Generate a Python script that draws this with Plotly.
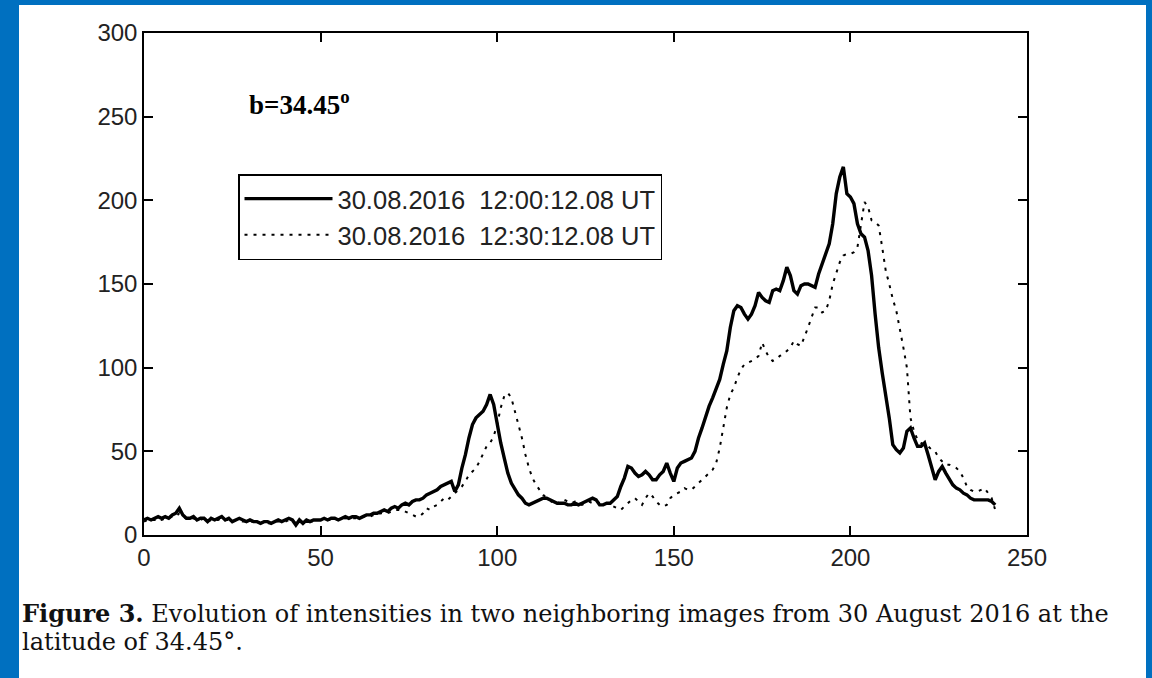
import plotly.graph_objects as go

# ---------------- data ----------------
x_pos = list(range(0, 242))

solid_1200 = [
    9, 10, 9, 10, 11, 10, 11, 10, 12, 13,
    16, 12, 10, 10, 11, 9, 10, 10, 8, 10,
    9, 10, 11, 9, 10, 8, 9, 10, 9, 8,
    9, 8, 8, 7, 8, 8, 7, 8, 9, 8,
    9, 10, 9, 6, 9, 7, 9, 8, 9, 9,
    9, 10, 9, 10, 10, 9, 10, 11, 10, 11,
    11, 10, 11, 12, 12, 13, 13, 14, 15, 14,
    16, 17, 16, 18, 19, 18, 20, 21, 21, 22,
    24, 25, 26, 27, 29, 30, 31, 32, 26, 30,
    40, 48, 58, 66, 70, 72, 74, 78, 84, 78,
    66, 55, 46, 37, 31, 27, 24, 22, 19, 18,
    19, 20, 21, 22, 22, 21, 20, 19, 19, 19,
    18, 18, 19, 18, 19, 20, 21, 22, 21, 18,
    18, 19, 19, 21, 23, 29, 34, 41, 40, 37,
    35, 36, 38, 36, 33, 33, 36, 38, 43, 37,
    32, 40, 43, 44, 45, 46, 50, 58, 64, 71,
    77, 82, 87, 93, 102, 110, 124, 134, 137, 136,
    132, 129, 132, 137, 145, 142, 140, 139, 146, 147,
    146, 152, 160, 155, 146, 144, 149, 150, 150, 149,
    148, 156, 162, 168, 174, 186, 204, 214, 220, 204,
    202, 198, 186, 180, 178, 170, 155, 132, 112, 97,
    84, 70, 54, 51, 49, 52, 62, 64, 58, 53,
    53, 55, 48, 41, 33, 38, 41, 37, 33, 30,
    28, 27, 25, 24, 22, 21, 21, 21, 21, 21, 20, 18,
]

dotted_1230 = [
    8, 9, 9, 9, 10, 9, 10, 10, 11, 11,
    13, 11, 10, 9, 10, 9, 9, 10, 8, 9,
    9, 9, 10, 9, 9, 8, 9, 9, 8, 8,
    8, 8, 7, 7, 8, 7, 7, 8, 8, 8,
    8, 9, 9, 7, 8, 7, 8, 8, 8, 9,
    9, 9, 9, 9, 10, 9, 9, 10, 10, 10,
    10, 10, 11, 11, 11, 12, 12, 13, 13, 13,
    14, 15, 15, 15, 14, 13, 12, 11, 11, 13,
    16, 15, 17, 18, 20, 22, 21, 23, 25, 27,
    29, 32, 36, 38, 40, 44, 49, 53, 55, 59,
    66, 76, 83, 85, 82, 74, 66, 58, 48, 40,
    34, 30, 27, 24, 22, 21, 18, 19, 20, 21,
    20, 19, 20, 19, 18, 19, 20, 19, 20, 19,
    18, 19, 18, 17, 16, 15, 17, 19, 21, 22,
    20, 18, 22, 25, 23, 20, 18, 17, 18, 22,
    24, 25, 26, 28, 27, 27, 29, 31, 33, 35,
    37, 39, 43, 52, 64, 76, 84, 88, 94, 99,
    102, 103, 104, 105, 107, 115, 110, 106, 104, 105,
    107, 108, 110, 112, 116, 114, 113, 118, 124, 130,
    136, 136, 133, 134, 140, 150, 157, 163, 167, 168,
    168, 169, 172, 185, 199, 196, 188, 187, 185, 172,
    158, 150, 141, 134, 124, 112, 100, 70, 62, 57,
    55, 54, 53, 51, 50, 46, 44, 42, 42, 41,
    40, 38, 34, 29, 27, 26, 26, 27, 28, 25, 22, 15,
]

series_names = ["30.08.2016\u00a0\u00a012:00:12.08 UT",
                "30.08.2016\u00a0\u00a012:30:12.08 UT"]
x_ticks = [0, 50, 100, 150, 200, 250]
y_ticks = [0, 50, 100, 150, 200, 250, 300]

label_text = "<b>b=34.45<sup>o</sup></b>"
caption_1 = ("<b>Figure 3.</b> Evolution of intensities in two neighboring images "
             "from 30 August 2016 at the")
caption_2 = "latitude of 34.45°."

# ---------------- figure ----------------
W, H = 1152, 678
L, R, T, B = 144, 1027, 33, 535     # plot area in pixels

def px(xp):
    return (xp - L) / (R - L)

def py(yp):
    return (B - yp) / (B - T)

fig = go.Figure()
fig.add_trace(go.Scatter(
    x=x_pos, y=solid_1200, mode="lines", name=series_names[0],
    line=dict(color="black", width=3.4)))
fig.add_trace(go.Scatter(
    x=x_pos, y=dotted_1230, mode="lines", name=series_names[1],
    line=dict(color="black", width=2, dash="3px,6px")))

axis_common = dict(
    showline=True, linecolor="black", linewidth=1.5, mirror="ticks",
    ticks="inside", ticklen=9, tickwidth=1.5, tickcolor="black",
    showgrid=False, zeroline=False,
    tickfont=dict(family="Liberation Sans, Arial, sans-serif", size=24, color="#222"),
)

fig.update_xaxes(range=[0, 250], tickvals=x_ticks, **axis_common)
fig.update_yaxes(range=[0, 300], tickvals=y_ticks, **axis_common)

# white page with blue frame
fig.add_shape(type="rect", xref="paper", yref="paper",
              x0=px(19), x1=px(1146), y0=py(W), y1=py(5),
              fillcolor="white", line=dict(width=0), layer="below")

fig.add_annotation(text=label_text, xref="paper", yref="paper",
                   x=px(247), y=py(103), xanchor="left", yanchor="middle",
                   showarrow=False,
                   font=dict(family="Liberation Serif, Times New Roman, serif",
                             size=27, color="black"))

cap_font = dict(family="DejaVu Serif, Liberation Serif, serif", size=24, color="#111")
fig.add_annotation(text=caption_1, xref="paper", yref="paper",
                   x=px(20), y=py(613), xanchor="left", yanchor="middle",
                   showarrow=False, font=cap_font)
fig.add_annotation(text=caption_2, xref="paper", yref="paper",
                   x=px(20), y=py(642), xanchor="left", yanchor="middle",
                   showarrow=False, font=cap_font)

fig.update_layout(
    width=W, height=H,
    margin=dict(l=L, r=W - R, t=T, b=H - B),
    paper_bgcolor="#0070C0", plot_bgcolor="white",
    showlegend=True,
    legend=dict(x=px(238), y=py(174), xanchor="left", yanchor="top",
                bgcolor="white", bordercolor="black", borderwidth=1.5,
                itemwidth=88,
                font=dict(family="Liberation Sans, Arial, sans-serif", size=25.5,
                          color="#222")),
)

fig.write_html("out.html")
